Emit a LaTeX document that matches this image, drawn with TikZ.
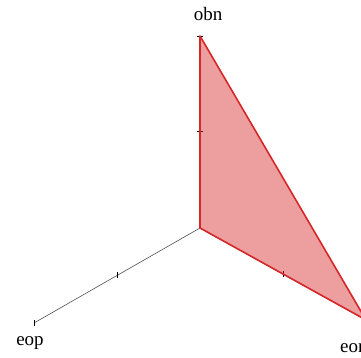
\documentclass[tikz,border=0pt]{standalone}
\usepackage{fontspec}
\setmainfont{Liberation Serif}
\usetikzlibrary{positioning}

\definecolor{facered}{RGB}{214,39,40}
\definecolor{axisgray}{RGB}{80,80,80}

\begin{document}
\begin{tikzpicture}[x=1pt, y=-1pt,
  axisline/.style={axisgray, line width=0.6pt},
  tickmark/.style={black, line width=0.8pt},
  face/.style={fill=facered, fill opacity=0.45, draw=facered, draw opacity=1, line width=1.6pt, line join=round},
  axlabel/.style={font=\fontsize{19}{22}\selectfont, inner sep=0pt}
]
  \useasboundingbox (0,0) rectangle (361,358);

  % axes
  \coordinate (O)   at (200,228);
  \coordinate (top) at (200,36);
  \coordinate (lft) at (34,323);
  \coordinate (rgt) at (366,320);

  \draw[axisline] (O) -- (top);
  \draw[axisline] (O) -- (lft);
  \draw[axisline] (O) -- (rgt);

  % ticks
  \draw[tickmark] (197,36) -- (203,36);
  \draw[tickmark] (197,131) -- (203,131);
  \draw[tickmark] (117,272) -- (117,278);
  \draw[tickmark] (34,320) -- (34,326);
  \draw[tickmark] (283,271) -- (283,277);

  % surface
  \draw[face] (top) -- (O) -- (rgt) -- cycle;

  % labels
  \node[axlabel] (obn) at (208,14)  {obn};
  \node[axlabel] (eop) at (30,343)  {eop};
  \node[axlabel, anchor=west] (eon) at (340,348) {eon};
\end{tikzpicture}
\end{document}
